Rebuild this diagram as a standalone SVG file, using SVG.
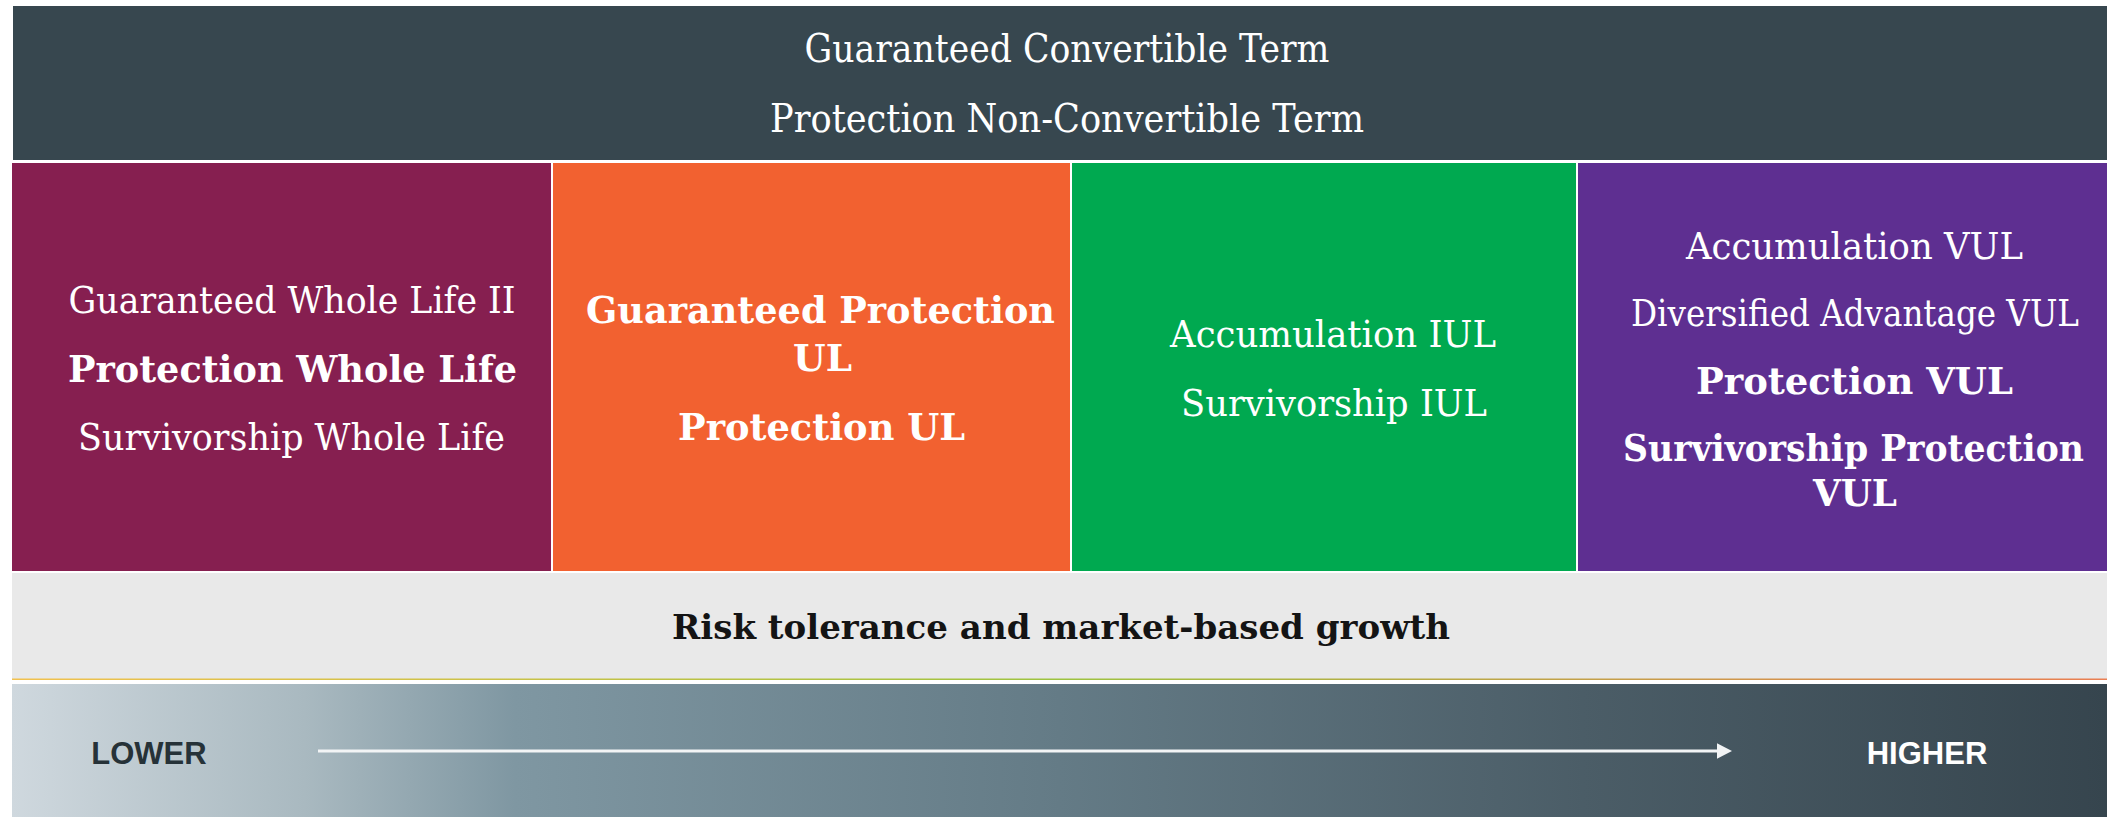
<svg xmlns="http://www.w3.org/2000/svg" width="2107" height="817" viewBox="0 0 2107 817">
  <style>
    .serif { font-family: "DejaVu Serif", "Liberation Serif", serif; fill: #ffffff; text-anchor: middle; }
    .reg { font-size: 37px; font-weight: normal; }
    .bold { font-size: 37px; font-weight: bold; }
    .head { font-size: 40px; font-weight: normal; }
    .risk { font-family: "DejaVu Serif", "Liberation Serif", serif; font-size: 33px; font-weight: bold; fill: #141414; text-anchor: middle; }
    .scale { font-family: "Liberation Sans", Arial, sans-serif; font-size: 31px; font-weight: bold; text-anchor: middle; }
  </style>
  <defs>
    <linearGradient id="scaleFill" x1="0" y1="0" x2="1" y2="0">
      <stop offset="0" stop-color="#cfd8de"/>
      <stop offset="0.14" stop-color="#a9b9c0"/>
      <stop offset="0.24" stop-color="#7f97a2"/>
      <stop offset="0.50" stop-color="#647b86"/>
      <stop offset="0.75" stop-color="#4b5d67"/>
      <stop offset="1" stop-color="#36454e"/>
    </linearGradient>
    <linearGradient id="rule" x1="0" y1="0" x2="1" y2="0">
      <stop offset="0" stop-color="#f2c14e"/>
      <stop offset="0.5" stop-color="#9dc33f"/>
      <stop offset="1" stop-color="#ea7e52"/>
    </linearGradient>
    <marker id="arrowHead" markerUnits="userSpaceOnUse" markerWidth="16" markerHeight="16" refX="0" refY="7.7" orient="auto">
      <path d="M0,0 L15,7.7 L0,15.4 Z" fill="#f2f4f5"/>
    </marker>
  </defs>

  <rect x="0" y="0" width="2107" height="817" fill="#ffffff"/>

  <!-- term products banner -->
  <g id="header">
    <rect x="13" y="6" width="2094" height="154" fill="#37474f"/>
    <text class="serif head" x="1067" y="62.3" textLength="525" lengthAdjust="spacingAndGlyphs">Guaranteed Convertible Term</text>
    <text class="serif head" x="1067" y="131.7" textLength="594" lengthAdjust="spacingAndGlyphs">Protection Non-Convertible Term</text>
  </g>

  <!-- whole life -->
  <g id="col-whole-life">
    <rect x="12" y="163" width="539" height="408" fill="#861f50"/>
    <text class="serif reg" x="292" y="313.3" textLength="447" lengthAdjust="spacingAndGlyphs">Guaranteed Whole Life II</text>
    <text class="serif bold" x="292.5" y="381.7" textLength="449" lengthAdjust="spacingAndGlyphs">Protection Whole Life</text>
    <text class="serif reg" x="291.5" y="450" textLength="427" lengthAdjust="spacingAndGlyphs">Survivorship Whole Life</text>
  </g>

  <!-- universal life -->
  <g id="col-ul">
    <rect x="553" y="163" width="517" height="408" fill="#f26130"/>
    <text class="serif bold" x="820.5" y="323.3" textLength="469" lengthAdjust="spacingAndGlyphs">Guaranteed Protection</text>
    <text class="serif bold" x="822.5" y="370.7" textLength="59" lengthAdjust="spacingAndGlyphs">UL</text>
    <text class="serif bold" x="821.5" y="440" textLength="287" lengthAdjust="spacingAndGlyphs">Protection UL</text>
  </g>

  <!-- indexed universal life -->
  <g id="col-iul">
    <rect x="1072" y="163" width="504" height="408" fill="#00a950"/>
    <text class="serif reg" x="1333" y="346.7" textLength="326" lengthAdjust="spacingAndGlyphs">Accumulation IUL</text>
    <text class="serif reg" x="1334" y="416" textLength="306" lengthAdjust="spacingAndGlyphs">Survivorship IUL</text>
  </g>

  <!-- variable universal life -->
  <g id="col-vul">
    <rect x="1578" y="163" width="529" height="408" fill="#5e2f91"/>
    <text class="serif reg" x="1854.5" y="259.3" textLength="337" lengthAdjust="spacingAndGlyphs">Accumulation VUL</text>
    <text class="serif reg" x="1855" y="326" textLength="448" lengthAdjust="spacingAndGlyphs">Diversified Advantage VUL</text>
    <text class="serif bold" x="1854.5" y="394.3" textLength="317" lengthAdjust="spacingAndGlyphs">Protection VUL</text>
    <text class="serif bold" x="1853.5" y="460.7" textLength="461" lengthAdjust="spacingAndGlyphs">Survivorship Protection</text>
    <text class="serif bold" x="1855" y="505.5" textLength="84" lengthAdjust="spacingAndGlyphs">VUL</text>
  </g>

  <!-- risk caption band -->
  <g id="risk-band">
    <rect x="12" y="573" width="2095" height="106" fill="#e9e9e9"/>
    <rect x="12" y="678.5" width="2095" height="1.5" fill="url(#rule)"/>
    <text class="risk" x="1061" y="639.3" textLength="778" lengthAdjust="spacingAndGlyphs">Risk tolerance and market-based growth</text>
  </g>

  <!-- lower / higher scale -->
  <g id="scale-bar">
    <rect x="12" y="684" width="2095" height="133" fill="url(#scaleFill)"/>
    <text class="scale" x="149" y="764.3" fill="#263238">LOWER</text>
    <text class="scale" x="1927" y="764.3" fill="#ffffff">HIGHER</text>
  </g>

  <g id="connectors">
    <line x1="318" y1="751" x2="1717" y2="751" stroke="#f2f4f5" stroke-width="3" marker-end="url(#arrowHead)"/>
  </g>
</svg>
